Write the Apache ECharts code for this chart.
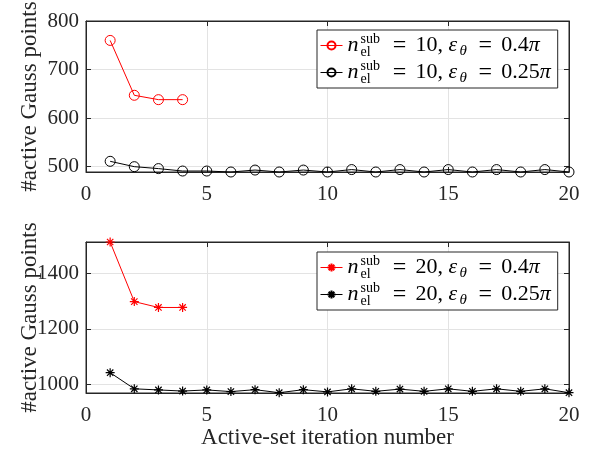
<!DOCTYPE html>
<html>
<head>
<meta charset="utf-8">
<script src="https://cdn.jsdelivr.net/npm/echarts@6/dist/echarts.min.js"></script>
<style>
  html, body { margin: 0; padding: 0; background: #fff; }
  #chart { width: 597px; height: 454px; }
</style>
</head>
<body>
<div id="chart"></div>
<script>
// ---- data ----
const iterations = [1, 2, 3, 4, 5, 6, 7, 8, 9, 10, 11, 12, 13, 14, 15, 16, 17, 18, 19, 20];
const xTicks = [0, 5, 10, 15, 20];

// top subplot (n_el^sub = 10)
const topRed   = [760, 647, 638, 638];
const topBlack = [511, 500, 496, 491, 491, 489, 493, 489, 493, 489, 494, 489, 494, 489, 494, 489, 494, 489, 494, 489];
const topYTicks = [500, 600, 700, 800];
const topYRange = [489, 800];

// bottom subplot (n_el^sub = 20)
const botRed   = [1512, 1298, 1277, 1277];
const botBlack = [1043, 985, 981, 977, 981, 975, 982, 971, 982, 974, 985, 976, 984, 976, 985, 976, 985, 976, 985, 971];
const botYTicks = [1000, 1200, 1400];
const botYRange = [970, 1512];

// legend entries
const topNsub = 10, botNsub = 20;
const epsRed = '0.4', epsBlack = '0.25';

const yName = '#active Gauss points';
const xName = 'Active-set iteration number';

// ---- helpers ----
const FONT = 'Liberation Serif';
const AX = '#262626';
const GRIDC = '#e3e3e3';
const STAR = 'path://M0,-10L0,10M-10,0L10,0M-7.07,-7.07L7.07,7.07M-7.07,7.07L7.07,-7.07';

function pairs(vals) { return vals.map((v, i) => [iterations[i], v]); }
function seriesName(n, eps) { return 'n_el^sub = ' + n + ', ε_θ = ' + eps + 'π'; }
function richLabel(n, eps) {
  return '{n1|n}{sup|sub}{sub|el}{eq|=}{m|' + n + ', }{n|ε}{th|θ}{eq|=}{m|' + eps + '}{n|π}';
}
const legendInfo = {};
legendInfo[seriesName(topNsub, epsRed)] = richLabel(topNsub, epsRed);
legendInfo[seriesName(topNsub, epsBlack)] = richLabel(topNsub, epsBlack);
legendInfo[seriesName(botNsub, epsRed)] = richLabel(botNsub, epsRed);
legendInfo[seriesName(botNsub, epsBlack)] = richLabel(botNsub, epsBlack);

const rich = {
  m:   { fontFamily: FONT, fontSize: 22, lineHeight: 27, verticalAlign: 'middle', color: '#000' },
  eq:  { fontFamily: FONT, fontSize: 24, lineHeight: 27, verticalAlign: 'middle', width: 32, align: 'center', color: '#000' },
  n1:  { fontFamily: FONT, fontSize: 22, lineHeight: 27, verticalAlign: 'middle', fontStyle: 'italic', width: 13, color: '#000' },
  n:   { fontFamily: FONT, fontSize: 22, lineHeight: 27, verticalAlign: 'middle', fontStyle: 'italic', color: '#000' },
  sup: { fontFamily: FONT, fontSize: 14, lineHeight: 13, verticalAlign: 'top', width: 0, color: '#000' },
  sub: { fontFamily: FONT, fontSize: 14, lineHeight: 9, verticalAlign: 'bottom', width: 23, color: '#000' },
  th:  { fontFamily: FONT, fontSize: 15, lineHeight: 13, verticalAlign: 'bottom', fontStyle: 'italic', width: 12, color: '#000' }
};

function xAxisPair(gridIndex, showName) {
  return [{
    type: 'value', gridIndex: gridIndex, position: 'bottom', min: 0, max: 20, interval: 5,
    axisLine: { show: true, onZero: false, lineStyle: { color: AX, width: 1 } },
    axisTick: { show: true, inside: true, length: 5, lineStyle: { color: AX } },
    axisLabel: { show: true, margin: 12, fontFamily: FONT, fontSize: 21, color: AX },
    splitLine: { show: true, lineStyle: { color: GRIDC, width: 1 } },
    name: showName ? xName : '', nameLocation: 'middle', nameGap: 33, nameMoveOverlap: false,
    nameTextStyle: { fontFamily: FONT, fontSize: 23, color: AX }
  }, {
    type: 'value', gridIndex: gridIndex, position: 'top', min: 0, max: 20, interval: 5,
    axisLine: { show: true, onZero: false, lineStyle: { color: AX, width: 1 } },
    axisTick: { show: true, inside: true, length: 5, lineStyle: { color: AX } },
    axisLabel: { show: false }, splitLine: { show: false }
  }];
}
function yAxisPair(gridIndex, range, ticks) {
  return [{
    type: 'value', gridIndex: gridIndex, position: 'left', min: range[0], max: range[1],
    axisLine: { show: true, onZero: false, lineStyle: { color: AX, width: 1 } },
    axisTick: { show: true, inside: true, length: 5, customValues: ticks, lineStyle: { color: AX } },
    axisLabel: { show: true, margin: 7, customValues: ticks, fontFamily: FONT, fontSize: 21, color: AX,
                 formatter: function (v) { return String(v); } },
    splitLine: { show: true, lineStyle: { color: GRIDC, width: 1 } },
    name: yName, nameLocation: 'middle', nameGap: 45, nameMoveOverlap: false,
    nameTextStyle: { fontFamily: FONT, fontSize: 23, color: AX }
  }, {
    type: 'value', gridIndex: gridIndex, position: 'right', min: range[0], max: range[1],
    axisLine: { show: true, onZero: false, lineStyle: { color: AX, width: 1 } },
    axisTick: { show: true, inside: true, length: 5, customValues: ticks, lineStyle: { color: AX } },
    axisLabel: { show: false, customValues: ticks }, splitLine: { show: false }
  }];
}

function lineSeries(name, vals, color, symbol, xi, yi) {
  const isStar = symbol === 'star';
  return {
    type: 'line', name: name, xAxisIndex: xi, yAxisIndex: yi,
    data: pairs(vals),
    symbol: isStar ? STAR : 'circle',
    symbolSize: isStar ? 9 : 10,
    showAllSymbol: true,
    lineStyle: { color: color, width: 1 },
    itemStyle: isStar
      ? { color: color, borderColor: color, borderWidth: 1.2 }
      : { color: 'rgba(0,0,0,0)', borderColor: color, borderWidth: 1 },
    emphasis: { disabled: true },
    z: color === 'red' ? 3 : 2
  };
}

function legendCfg(names, top) {
  return {
    data: names, orient: 'vertical', left: 317, top: top,
    padding: [2, 7, 2, 3], itemGap: 0, itemWidth: 22, itemHeight: 10,
    backgroundColor: '#fff', borderColor: AX, borderWidth: 1, borderRadius: 0,
    selectedMode: false,
    lineStyle: { width: 1 },
    formatter: function (name) { return legendInfo[name]; },
    textStyle: { fontFamily: FONT, fontSize: 22, color: '#000', rich: rich }
  };
}

const chart = echarts.init(document.getElementById('chart'), null, { renderer: 'canvas' });
chart.setOption({
  animation: false,
  backgroundColor: '#fff',
  grid: [
    { left: 86, right: 28, top: 21, height: 151, show: true, borderColor: AX, borderWidth: 1,
      backgroundColor: '#fff', containLabel: false, outerBoundsMode: 'none' },
    { left: 86, right: 28, top: 242, height: 151, show: true, borderColor: AX, borderWidth: 1,
      backgroundColor: '#fff', containLabel: false, outerBoundsMode: 'none' }
  ],
  xAxis: [].concat(xAxisPair(0, false), xAxisPair(1, true)),
  yAxis: [].concat(yAxisPair(0, topYRange, topYTicks), yAxisPair(1, botYRange, botYTicks)),
  legend: [
    legendCfg([seriesName(topNsub, epsRed), seriesName(topNsub, epsBlack)], 30),
    legendCfg([seriesName(botNsub, epsRed), seriesName(botNsub, epsBlack)], 252)
  ],
  series: [
    lineSeries(seriesName(topNsub, epsRed), topRed, 'red', 'circle', 0, 0),
    lineSeries(seriesName(topNsub, epsBlack), topBlack, 'black', 'circle', 0, 0),
    lineSeries(seriesName(botNsub, epsRed), botRed, 'red', 'star', 2, 2),
    lineSeries(seriesName(botNsub, epsBlack), botBlack, 'black', 'star', 2, 2)
  ]
});
</script>
</body>
</html>
